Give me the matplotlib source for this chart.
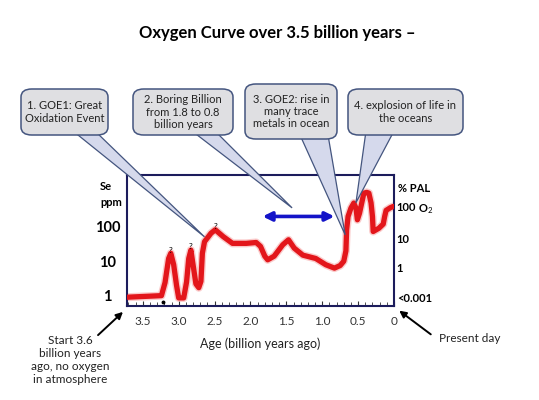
import matplotlib
matplotlib.use("Agg")
import matplotlib.pyplot as plt
from matplotlib.patches import FancyBboxPatch, Polygon

plt.rcParams['font.family'] = ['Lato', 'DejaVu Sans']
plt.rcParams['mathtext.fontset'] = 'custom'
plt.rcParams['mathtext.rm'] = 'Lato'
plt.rcParams['mathtext.it'] = 'Lato'

# hand drawn oxygen / selenium curve
age = [3.72, 3.24, 3.19, 3.14, 3.11, 3.07, 3.03, 3.00, 2.93, 2.89, 2.86, 2.83,
       2.80, 2.76, 2.72, 2.69, 2.67, 2.64, 2.55, 2.49, 2.38, 2.25, 2.06, 1.92,
       1.86, 1.80, 1.76, 1.67, 1.55, 1.47, 1.39, 1.27, 1.09, 0.95, 0.83, 0.75,
       0.70, 0.67, 0.66, 0.64, 0.60, 0.56, 0.53, 0.51, 0.48, 0.46, 0.42, 0.38,
       0.35, 0.32, 0.30, 0.29, 0.21, 0.15, 0.13, 0.11, 0.05, 0.01]
se_ppm = [0.9, 1.0, 2.4, 12, 17, 8, 2.0, 0.86, 0.86, 2.5, 12, 21,
          8, 2.2, 1.7, 2.6, 17, 37, 65, 82, 52, 33, 33, 35,
          27, 14, 11, 14, 30, 42, 24, 15, 12, 7.9, 6.3, 7.5,
          10, 20, 82, 200, 350, 490, 350, 160, 250, 390, 950, 1000,
          950, 500, 200, 73, 91, 120, 200, 300, 360, 390]

age_ticks = [3.5, 3.0, 2.5, 2.0, 1.5, 1.0, 0.5, 0.0]
age_labels = ['3.5', '3.0', '2.5', '2.0', '1.5', '1.0', '0.5', '0']
se_ticks = [1, 10, 100]
se_labels = ['1', '10', '100']
pal_ticks = [0.87, 6.5, 45, 380]
pal_labels = ['<0.001', '1', '10', '100']

boring_billion = [1.83, 0.83]
boring_level = 200

callout_texts = ['1. GOE1: Great\nOxidation Event',
                 '2. Boring Billion\nfrom 1.8 to 0.8\nbillion years',
                 '3. GOE2: rise in\nmany trace\nmetals in ocean',
                 '4. explosion of life in\nthe oceans']
callout_tip_age = [2.64, 1.42, 0.68, 0.53]
callout_tip_se = [51, 355, 58, 500]

query_age = [3.11, 2.83, 2.49]
query_se = [21, 26, 102]

W, H = 539, 400
fig = plt.figure(figsize=(W / 100, H / 100), dpi=100)


def fpos(x, y):
    # pixel position (from top left) -> figure fraction
    return x / W, 1 - y / H


ax = fig.add_axes([127 / W, 1 - 306 / H, (394 - 127) / W, (306 - 175) / H])
ax.set_yscale('log')
ax.set_xlim(3.72, 0)
ax.set_ylim(0.5, 3200)

ax.plot(age, se_ppm, color='#f58c8c', lw=5.8, alpha=0.45,
        solid_joinstyle='round', solid_capstyle='round', zorder=2)
ax.plot(age, se_ppm, color='#e3161b', lw=3.8,
        solid_joinstyle='round', solid_capstyle='round', zorder=3)

for a, s in zip(query_age, query_se):
    ax.text(a, s, '?', fontsize=6, ha='center', va='center', zorder=4)
ax.plot([3.22], [0.64], marker='o', ms=1.8, color='black', zorder=4)

ax.annotate('', xy=(boring_billion[1], boring_level),
            xytext=(boring_billion[0], boring_level),
            arrowprops=dict(arrowstyle='<|-|>', color='#1414c8', lw=2.6,
                            mutation_scale=13, shrinkA=0, shrinkB=0))

for sp in ax.spines.values():
    sp.set_color('#1c1c5c')
    sp.set_linewidth(1.5)

ax.set_xticks(age_ticks)
ax.set_xticklabels(age_labels, color='#333333', fontsize=8.5)
ax.set_xticks([i / 10 for i in range(0, 38)], minor=True)
ax.tick_params(axis='x', which='both', direction='in', length=3.5,
               color='#333333', pad=7)
ax.tick_params(axis='x', which='minor', length=3)

ax.set_yticks(se_ticks)
ax.set_yticklabels(se_labels, fontsize=10.5, fontweight='bold')
ax.yaxis.set_minor_locator(matplotlib.ticker.NullLocator())
ax.tick_params(axis='y', length=0, pad=14)
for lab in ax.get_yticklabels():
    lab.set_ha('center')

ax2 = ax.twinx()
ax2.set_yscale('log')
ax2.set_ylim(ax.get_ylim())
ax2.set_yticks(pal_ticks)
ax2.set_yticklabels(pal_labels, fontsize=8, fontweight='bold')
ax2.yaxis.set_minor_locator(matplotlib.ticker.NullLocator())
ax2.tick_params(axis='y', length=0, pad=2)
for sp in ax2.spines.values():
    sp.set_visible(False)

ax.set_xlabel('Age (billion years ago)', fontsize=9, color='#222222',
              labelpad=8)

fig.text(*fpos(100, 181), 'Se\nppm', fontsize=8, fontweight='bold',
         ha='left', va='top', linespacing=1.6)
fig.text(*fpos(398, 188), '% PAL', fontsize=8, fontweight='bold',
         ha='left', va='center')
fig.text(*fpos(418, 209), 'O$_2$', fontsize=8, fontweight='bold',
         ha='left', va='center')

fig.text(*fpos(277, 33), 'Oxygen Curve over 3.5 billion years \u2013',
         fontsize=12, fontweight='bold', ha='center', va='center')

# callout boxes: (left, top, right, bottom) in pixels, wedge base x range
boxes = [(21, 89, 108, 135), (133, 89, 233, 135),
         (245, 84, 337, 139), (348, 89, 463, 135)]
bases = [(73, 95), (192, 215), (300, 328), (366, 394)]

fig.canvas.draw()
for i, txt in enumerate(callout_texts):
    l, t, r, b = boxes[i]
    tip = ax.transData.transform((callout_tip_age[i], callout_tip_se[i]))
    tip = fig.transFigure.inverted().transform(tip)
    b0, b1 = bases[i]
    wedge = Polygon([fpos(b0, b - 4), fpos(b1, b - 4), tuple(tip)],
                    closed=True, transform=fig.transFigure,
                    facecolor='#d5d9ec', edgecolor='#44557f', lw=0.9,
                    zorder=5)
    fig.patches.append(wedge)
    x0, y0 = fpos(l, b)
    x1, y1 = fpos(r, t)
    box = FancyBboxPatch((x0, y0), x1 - x0, y1 - y0,
                         boxstyle='round,pad=0,rounding_size=0.02',
                         transform=fig.transFigure, facecolor='#dfdfe2',
                         edgecolor='#44557f', lw=1.1, zorder=6)
    fig.patches.append(box)
    fig.text((x0 + x1) / 2, (y0 + y1) / 2, txt, fontsize=8,
             color='#222222', ha='center', va='center', zorder=7,
             linespacing=1.15)

fig.text(*fpos(70, 360), 'Start 3.6\nbillion years\nago, no oxygen\nin atmosphere',
         fontsize=8.5, color='#222222', ha='center', va='center',
         linespacing=1.25)
fig.patches.append(matplotlib.patches.FancyArrowPatch(
    fpos(96, 337), fpos(125, 310), transform=fig.transFigure,
    arrowstyle='-|>', mutation_scale=10, color='black', lw=1.4, zorder=8))

fig.text(*fpos(470, 338), 'Present day', fontsize=8.5, color='#222222',
         ha='center', va='center')
fig.patches.append(matplotlib.patches.FancyArrowPatch(
    fpos(433, 336), fpos(397, 309), transform=fig.transFigure,
    arrowstyle='-|>', mutation_scale=10, color='black', lw=1.4, zorder=8))

fig.savefig('out.png', dpi=100)
